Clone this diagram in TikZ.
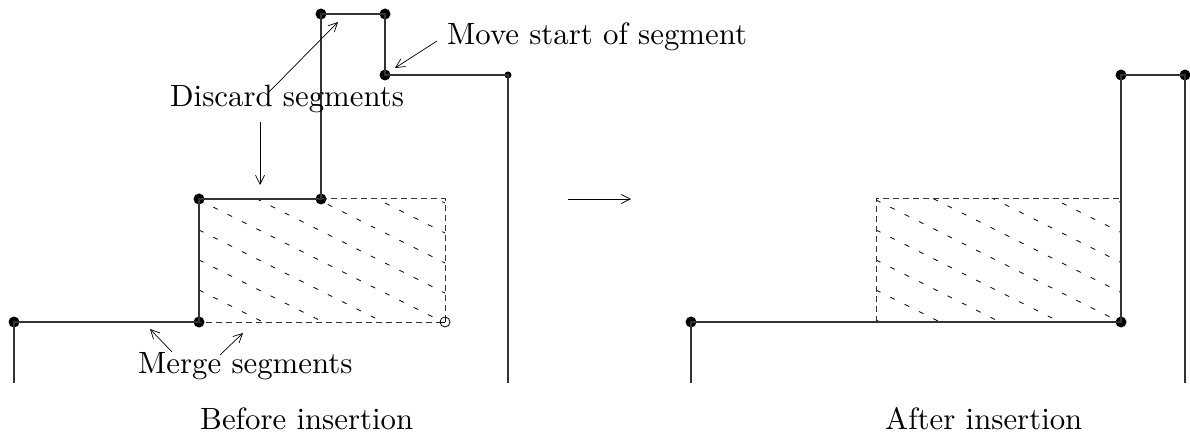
\documentclass[tikz,border=0pt]{standalone}
\usetikzlibrary{arrows.meta}
\font\lblfont="[lmroman10-regular]" at 30.8pt
\begin{document}
\begin{tikzpicture}[x=1pt,y=-1pt,
  lbl/.style={inner sep=0pt, anchor=base west, font=\lblfont},
  dot/.style={circle, fill=black, inner sep=0pt, minimum size=11pt},
  sdot/.style={circle, fill=black, inner sep=0pt, minimum size=7pt},
  seg/.style={line width=1.1pt, draw=black!80},
  pointer/.style={line width=0.7pt, -{Straight Barb[length=9pt,width=9pt]}},
  rectdash/.style={line width=1pt, dash pattern=on 6pt off 4pt, draw=black!80},
  hatch/.style={line width=0.8pt, dash pattern=on 5pt off 11pt}]
\useasboundingbox (0,0) rectangle (1190,443);

% ---------- left figure ----------
\begin{scope}
\clip (199,199) rectangle (445,322);
\foreach \k in {-5,...,3} \draw[hatch] (199,230+30*\k) -- ++(300,150);
\end{scope}
\coordinate (LA) at (14,383);
\node[dot] (L1) at (14,322) {};
\node[dot] (L2) at (199,322) {};
\node[dot] (L3) at (199,199) {};
\node[dot] (L4) at (321,199) {};
\coordinate (LR1) at (445,199);
\coordinate (LR2) at (445,322);
\node[dot] (L5) at (321,14) {};
\node[dot] (L6) at (385,14) {};
\node[dot] (L7) at (385,75) {};
\node[sdot] (L8) at (508,75) {};
\coordinate (LB) at (508,383);
\draw[seg] (LA) -- (L1.center) -- (L2.center) -- (L3.center) -- (L4.center) -- (L5.center) -- (L6.center) -- (L7.center) -- (L8.center) -- (LB);
\draw[rectdash] (L4.center) -- (LR1) -- (LR2) -- (L2.center);
\node[circle, draw=black, fill=white, line width=0.8pt, inner sep=0pt, minimum size=10pt] (LC) at (LR2) {};
\draw[line width=0.8pt] (LC.center) -- (LC.north);
\draw[line width=0.8pt] (LC.center) -- (LC.west);

\node[lbl] (disc) at (170,107) {Discard segments};
\node[lbl] (move) at (447,45) {Move start of segment};
\node[lbl] (merge) at (138,373) {Merge segments};
\node[lbl] (before) at (200,429) {Before insertion};

\coordinate (d1s) at (268,93);  \coordinate (d1e) at (338,22);
\coordinate (d2s) at (260,122); \coordinate (d2e) at (260,185);
\coordinate (ms) at (437,41);   \coordinate (me) at (395,68);
\coordinate (g1s) at (172,352); \coordinate (g1e) at (150,329);
\coordinate (g2s) at (220,355); \coordinate (g2e) at (243,333);
\draw[pointer] (d1s) -- (d1e);
\draw[pointer] (d2s) -- (d2e);
\draw[pointer] (ms) -- (me);
\draw[pointer] (g1s) -- (g1e);
\draw[pointer] (g2s) -- (g2e);

% middle arrow
\coordinate (as) at (568,199); \coordinate (ae) at (631,199);
\draw[pointer] (as) -- (ae);

% ---------- right figure ----------
\begin{scope}
\clip (876,199) rectangle (1121,322);
\foreach \k in {-5,...,3} \draw[hatch] (876,230+30*\k) -- ++(300,150);
\end{scope}
\coordinate (RA) at (691,383);
\node[dot] (R1) at (691,322) {};
\node[dot] (R2) at (1121,322) {};
\coordinate (RR1) at (876,322);
\coordinate (RR2) at (876,199);
\coordinate (RR3) at (1121,199);
\node[dot] (R3) at (1121,75) {};
\node[dot] (R4) at (1185,75) {};
\coordinate (RB) at (1185,383);
\draw[rectdash] (RR1) -- (RR2) -- (RR3);
\draw[seg] (RA) -- (R1.center) -- (R2.center) -- (R3.center) -- (R4.center) -- (RB);
\node[lbl] (after) at (885,429) {After insertion};
\end{tikzpicture}
\end{document}
